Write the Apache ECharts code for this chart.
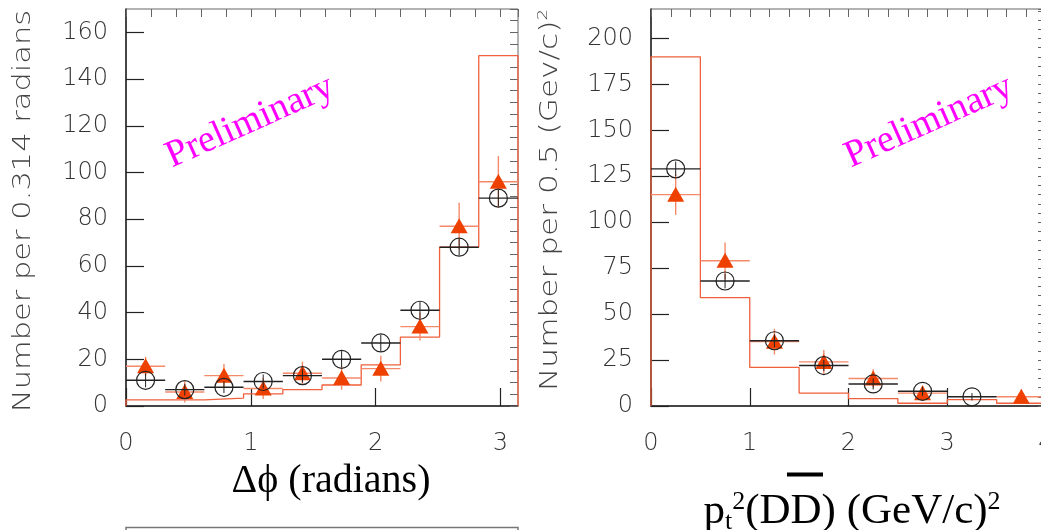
<!DOCTYPE html>
<html>
<head>
<meta charset="utf-8">
<script src="https://cdn.jsdelivr.net/npm/echarts@6/dist/echarts.min.js"></script>
<style>
  html, body { margin: 0; padding: 0; background: #fff; }
  #chart { width: 1041px; height: 530px; }
</style>
</head>
<body>
<div id="chart"></div>
<script>
// Δφ distribution, bins of 0.314 rad
const dphiEdges = [0, 0.314, 0.628, 0.942, 1.257, 1.571, 1.885, 2.199, 2.513, 2.827, 3.1416];
const dphiModel = [2.6, 2.6, 3.4, 5.2, 7, 9, 17.6, 29.5, 68, 150];
const dphiCircle = [11, 7, 8, 10.5, 13, 20, 27, 41, 68, 89];
const dphiCircleErr = [3, 2.5, 2.5, 3, 3, 3.5, 3.5, 3.5, 3.5, 3.5];
const dphiTriangle = [17, 6, 13, 7.5, 14, 12, 16, 34, 77, 96];
const dphiTriangleErr = [4, 4.5, 5, 4.5, 5, 5, 5.5, 6, 10, 11];

// pt^2 distribution, bins of 0.5 (GeV/c)^2
const pt2Edges = [0, 0.5, 1, 1.5, 2, 2.5, 3, 3.5, 4];
const pt2Model = [190, 59, 21, 7, 4, 1.5, 3.5, 1.5];
const pt2Circle = [129, 68, 35.5, 22, 12, 8, 5, null];
const pt2CircleErr = [4, 4, 3.5, 3, 3, 2.5, 2, 0];
const pt2Triangle = [115, 79, 35, 24, 15, 7, null, 5];
const pt2TriangleErr = [11, 10, 7, 6.5, 5, 4, 0, 4];

const MODEL_COLOR = '#f0603c';
const TRI_COLOR = '#ee4000';
const TRI_ERR_COLOR = '#f58a6a';
const CIRCLE_COLOR = '#222';
const TICK_FONT = { color: '#333', fontFamily: 'DejaVu Sans', fontWeight: 200, fontSize: 24 };

// histogram outline as a stepped line closed down to zero at both ends
function stepData(edges, vals) {
  const d = [[edges[0], 0]];
  vals.forEach((v, i) => d.push([edges[i], v]));
  d.push([edges[edges.length - 1], vals[vals.length - 1]]);
  d.push([edges[edges.length - 1], 0]);
  return d;
}

// [binLow, binHigh, value, error] rows for the error-bar points
function barData(edges, vals, errs) {
  const d = [];
  vals.forEach((v, i) => { if (v != null) d.push([edges[i], edges[i + 1], v, errs[i]]); });
  return d;
}

function circleItem(params, api) {
  const lo = api.value(0), hi = api.value(1), v = api.value(2), e = api.value(3);
  const mid = (lo + hi) / 2;
  const a = api.coord([lo, v]), b = api.coord([hi, v]);
  const c = api.coord([mid, v]);
  const t = api.coord([mid, v + e]), u = api.coord([mid, v - e]);
  return {
    type: 'group',
    children: [
      { type: 'line', shape: { x1: a[0], y1: a[1], x2: b[0], y2: b[1] }, style: { stroke: CIRCLE_COLOR, lineWidth: 1.4 } },
      { type: 'line', shape: { x1: t[0], y1: t[1], x2: u[0], y2: u[1] }, style: { stroke: CIRCLE_COLOR, lineWidth: 1 } },
      { type: 'circle', shape: { cx: c[0], cy: c[1], r: 9 }, style: { fill: 'none', stroke: CIRCLE_COLOR, lineWidth: 1.2 } }
    ]
  };
}

function triangleItem(params, api) {
  const lo = api.value(0), hi = api.value(1), v = api.value(2), e = api.value(3);
  const mid = (lo + hi) / 2;
  const a = api.coord([lo, v]), b = api.coord([hi, v]);
  const c = api.coord([mid, v]);
  const t = api.coord([mid, v + e]), u = api.coord([mid, v - e]);
  return {
    type: 'group',
    children: [
      { type: 'line', shape: { x1: a[0], y1: a[1], x2: b[0], y2: b[1] }, style: { stroke: TRI_ERR_COLOR, lineWidth: 1.4 } },
      { type: 'line', shape: { x1: t[0], y1: t[1], x2: u[0], y2: u[1] }, style: { stroke: TRI_ERR_COLOR, lineWidth: 1.4 } },
      { type: 'polygon', shape: { points: [[c[0], c[1] - 8], [c[0] + 8.5, c[1] + 7], [c[0] - 8.5, c[1] + 7]] }, style: { fill: TRI_COLOR } }
    ]
  };
}

function majorAxis(idx, min, max, interval, isX) {
  return {
    type: 'value', gridIndex: idx, min: min, max: max, interval: interval,
    axisLine: { show: true, onZero: false, lineStyle: { color: '#222', width: 1.5 } },
    axisTick: { show: true, inside: true, length: 18, lineStyle: { color: '#222', width: 1.2 } },
    axisLabel: Object.assign({ show: true, margin: isX ? 26 : 18, showMaxLabel: (max % interval) === 0, hideOverlap: false }, TICK_FONT),
    splitLine: { show: false }
  };
}
function minorAxis(idx, min, max, interval) {
  return {
    type: 'value', gridIndex: idx, min: min, max: max, interval: interval,
    axisLine: { show: false, onZero: false },
    axisTick: { show: true, inside: true, length: 8, lineStyle: { color: '#666', width: 1 } },
    axisLabel: { show: false },
    splitLine: { show: false }
  };
}

const chart = echarts.init(document.getElementById('chart'), null, { renderer: 'canvas' });

const option = {
  animation: false,
  backgroundColor: '#fff',
  grid: [
    { left: 126, top: 9, width: 392, height: 397, outerBoundsMode: 'none', containLabel: false,
      show: true, borderColor: '#666', borderWidth: 1, backgroundColor: 'transparent' },
    { left: 651, top: 9, width: 395, height: 397, outerBoundsMode: 'none', containLabel: false,
      show: true, borderColor: '#666', borderWidth: 1, backgroundColor: 'transparent' }
  ],
  xAxis: [
    majorAxis(0, 0, 3.1416, 1, true),
    minorAxis(0, 0, 3.1416, 0.2),
    majorAxis(1, 0, 4, 1, true),
    minorAxis(1, 0, 4, 0.2)
  ],
  yAxis: [
    majorAxis(0, 0, 170, 20, false),
    minorAxis(0, 0, 170, 5),
    majorAxis(1, 0, 216, 25, false),
    minorAxis(1, 0, 216, 5)
  ],
  series: [
    { type: 'line', xAxisIndex: 0, yAxisIndex: 0, step: 'end', symbol: 'none', data: stepData(dphiEdges, dphiModel),
      lineStyle: { color: MODEL_COLOR, width: 1.3 }, z: 2 },
    { type: 'custom', xAxisIndex: 0, yAxisIndex: 0, renderItem: triangleItem, data: barData(dphiEdges, dphiTriangle, dphiTriangleErr),
      encode: { x: [0, 1], y: 2 }, z: 3 },
    { type: 'custom', xAxisIndex: 0, yAxisIndex: 0, renderItem: circleItem, data: barData(dphiEdges, dphiCircle, dphiCircleErr),
      encode: { x: [0, 1], y: 2 }, z: 4 },

    { type: 'line', xAxisIndex: 2, yAxisIndex: 2, step: 'end', symbol: 'none', data: stepData(pt2Edges, pt2Model),
      lineStyle: { color: MODEL_COLOR, width: 1.3 }, z: 2 },
    { type: 'custom', xAxisIndex: 2, yAxisIndex: 2, renderItem: triangleItem, data: barData(pt2Edges, pt2Triangle, pt2TriangleErr),
      encode: { x: [0, 1], y: 2 }, z: 3 },
    { type: 'custom', xAxisIndex: 2, yAxisIndex: 2, renderItem: circleItem, data: barData(pt2Edges, pt2Circle, pt2CircleErr),
      encode: { x: [0, 1], y: 2 }, z: 4 }
  ],
  graphic: [
    // y-axis titles
    { type: 'text', x: 24, y: 211, rotation: Math.PI / 2, scaleX: 1.27, z: 10,
      style: { text: 'Number per 0.314 radians', fill: '#444', font: '200 24px "DejaVu Sans"', align: 'center', verticalAlign: 'middle' } },
    { type: 'text', x: 551, y: 200, rotation: Math.PI / 2, scaleX: 1.3, z: 10,
      style: { text: '{a|Number per 0.5 (Gev/c)}{s|2}', align: 'center', verticalAlign: 'middle',
        rich: {
          a: { fill: '#444', fontFamily: 'DejaVu Sans', fontWeight: 200, fontSize: 24, lineHeight: 30 },
          s: { fill: '#444', fontFamily: 'DejaVu Sans', fontWeight: 200, fontSize: 14, lineHeight: 16, verticalAlign: 'top' }
        } } },
    // x-axis titles
    { type: 'text', x: 331, y: 481, z: 10,
      style: { text: 'Δϕ (radians)', fill: '#000', font: '40px "Liberation Serif", "DejaVu Serif"', align: 'center', verticalAlign: 'middle' } },
    { type: 'text', x: 852, y: 512, z: 10,
      style: { text: '{m|p}{b|t}{t|2}{m|(DD) (GeV/c)}{t|2}', align: 'center', verticalAlign: 'middle',
        rich: {
          m: { fill: '#000', fontFamily: 'Liberation Serif', fontSize: 43, lineHeight: 46 },
          b: { fill: '#000', fontFamily: 'Liberation Serif', fontSize: 26, lineHeight: 28, verticalAlign: 'bottom' },
          t: { fill: '#000', fontFamily: 'Liberation Serif', fontSize: 26, lineHeight: 28, verticalAlign: 'top' }
        } } },
    // bar over the second D (anti-D)
    { type: 'rect', shape: { x: 787, y: 472.5, width: 36, height: 4 }, style: { fill: '#000' }, z: 10 },
    // watermark
    { type: 'text', x: 250, y: 122, rotation: 24 * Math.PI / 180, z: 10,
      style: { text: 'Preliminary', fill: '#ff00ff', font: '38px "Liberation Serif"', align: 'center', verticalAlign: 'middle' } },
    { type: 'text', x: 929, y: 122, rotation: 24 * Math.PI / 180, z: 10,
      style: { text: 'Preliminary', fill: '#ff00ff', font: '38px "Liberation Serif"', align: 'center', verticalAlign: 'middle' } },
    // top edge of the panel below
    { type: 'polyline', shape: { points: [[126, 531], [126, 527.5], [518, 527.5], [518, 531]] }, style: { stroke: '#777', lineWidth: 1.5, fill: 'none' }, z: 10 }
  ]
};

chart.setOption(option);
</script>
</body>
</html>
